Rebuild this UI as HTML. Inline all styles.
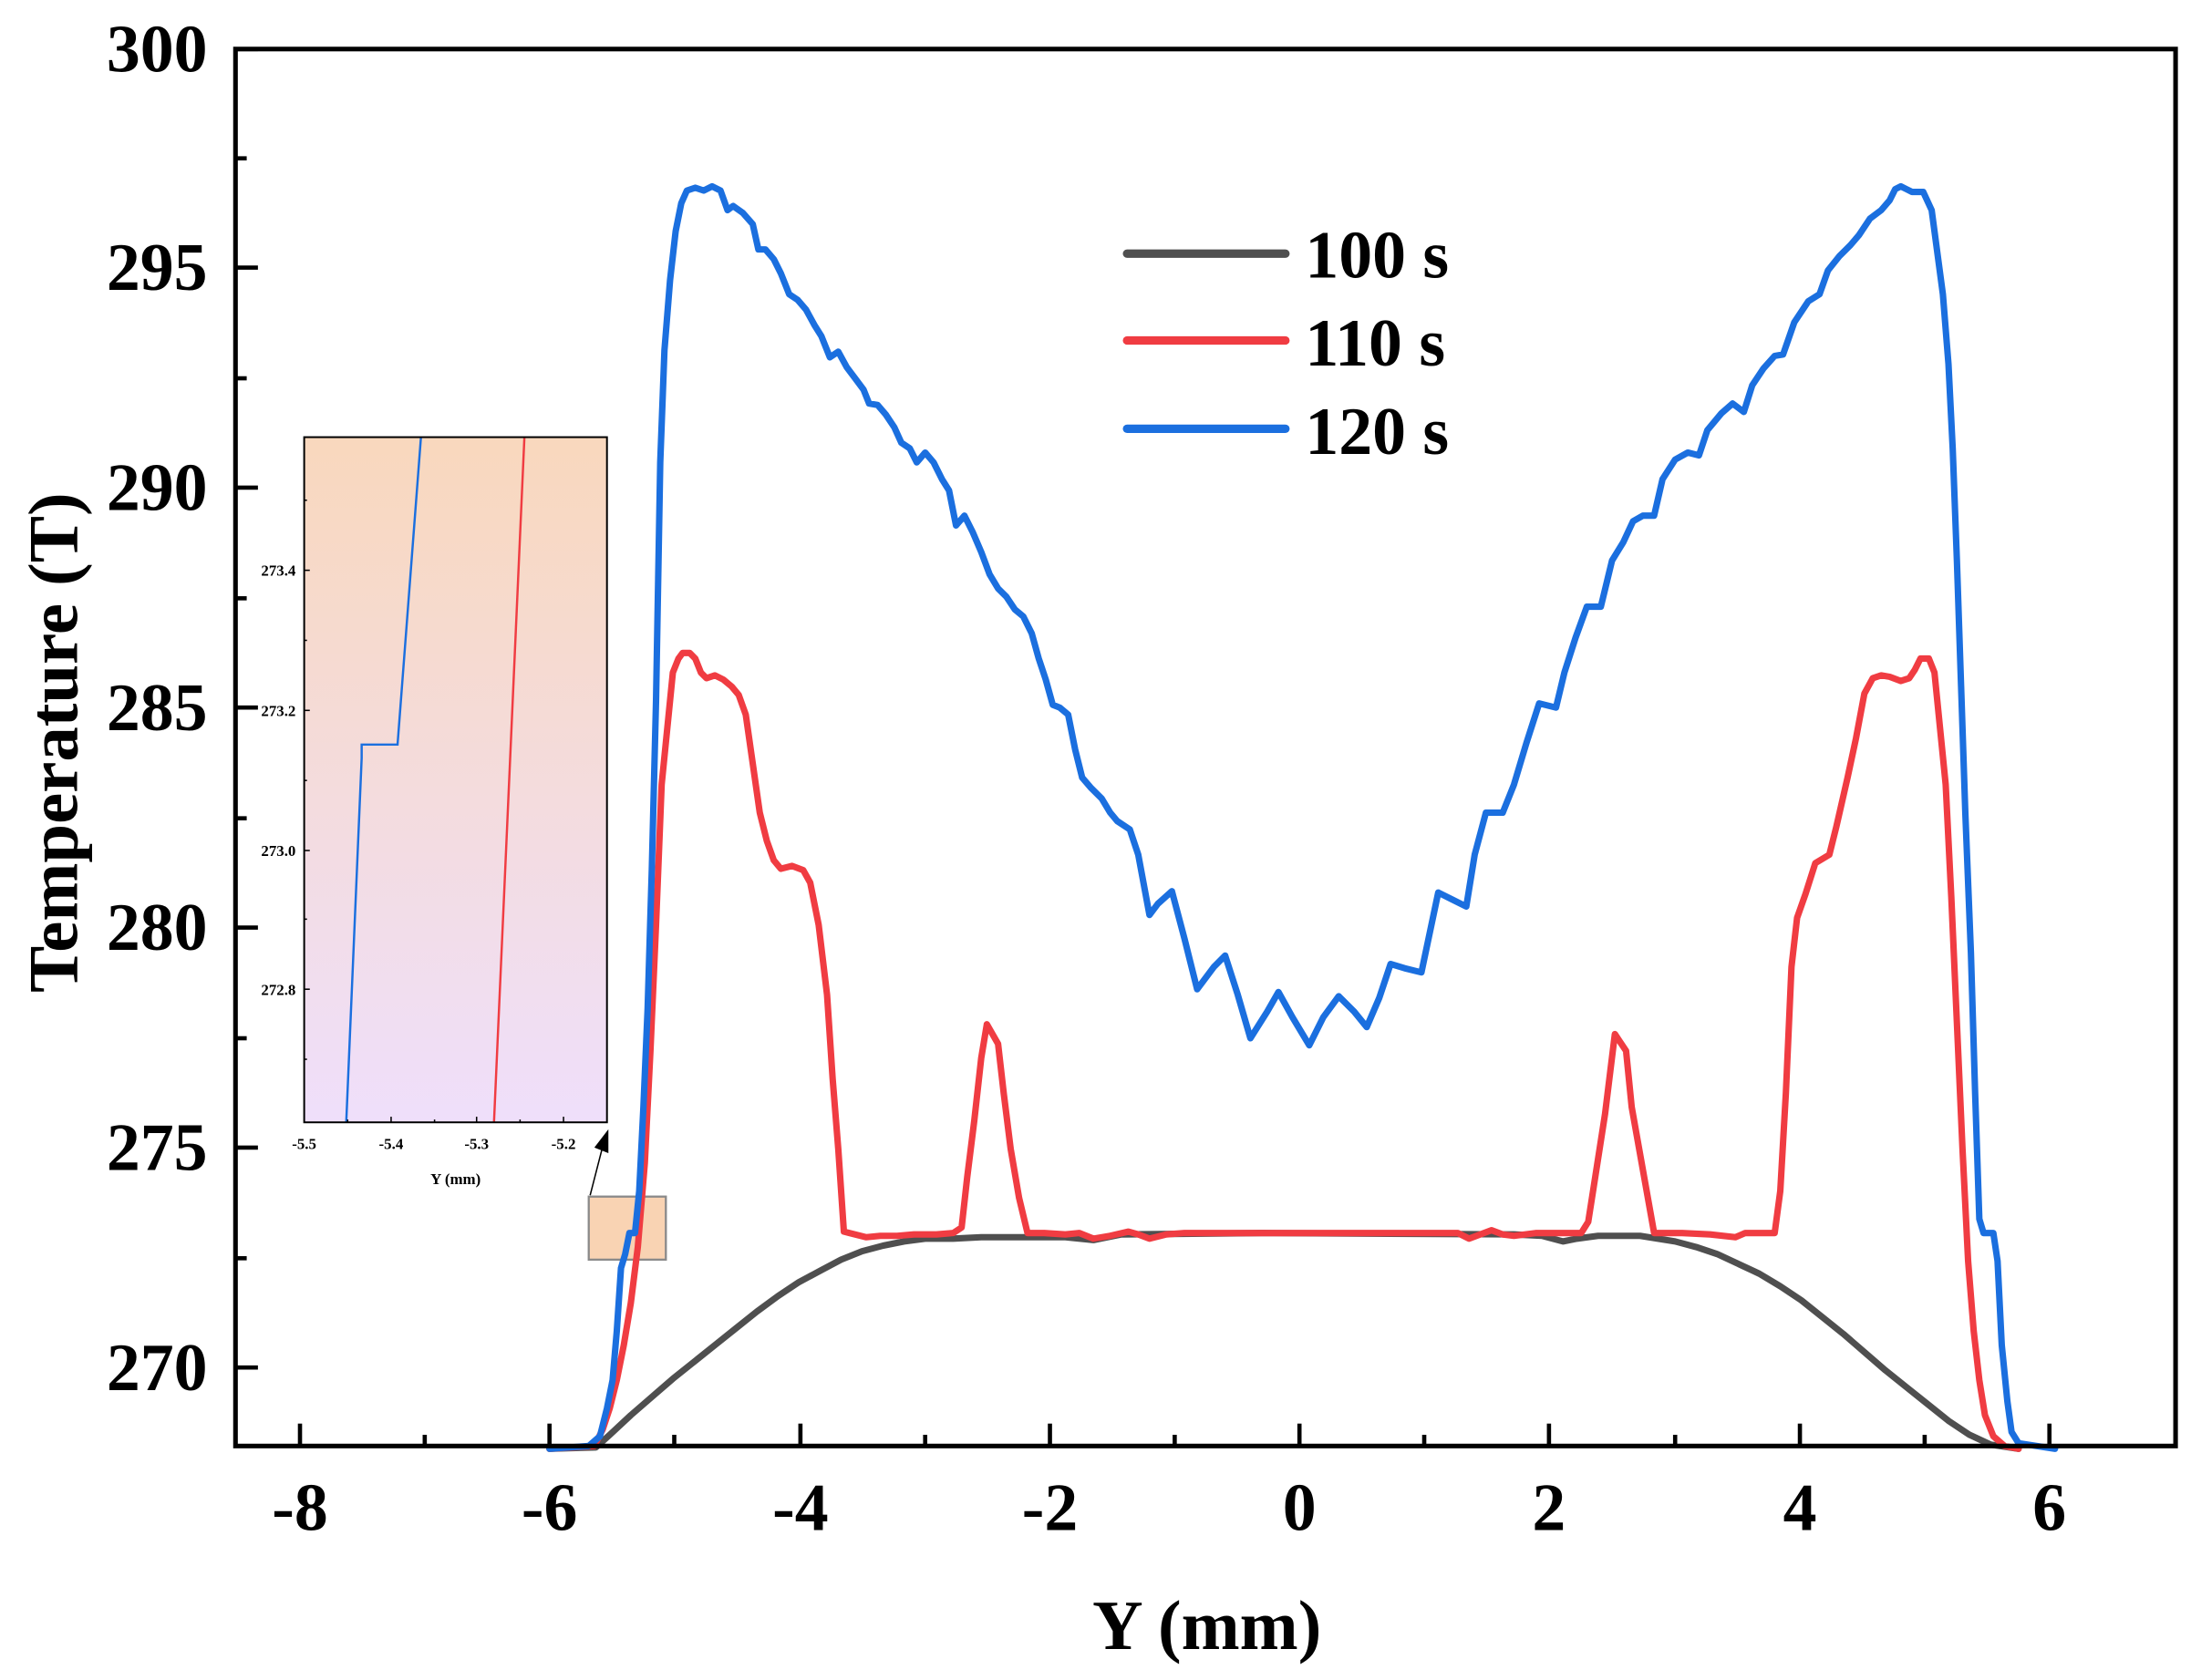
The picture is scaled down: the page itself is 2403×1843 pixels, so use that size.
<!DOCTYPE html>
<html><head><meta charset="utf-8"><style>
html,body{margin:0;padding:0;background:#fff;}
svg{display:block;}
text{font-family:"Liberation Serif",serif;font-weight:bold;fill:#000;}
</style></head><body>
<svg width="2403" height="1843" viewBox="0 0 1563 1199" preserveAspectRatio="none" xmlns="http://www.w3.org/2000/svg">
<defs>
<linearGradient id="g" x1="0" y1="0" x2="0" y2="1">
<stop offset="0" stop-color="#f9d8bd"/><stop offset="1" stop-color="#efdffb"/>
</linearGradient>
</defs>
<rect width="1563" height="1199" fill="#fff"/>

<!-- small highlight box -->
<rect x="420" y="854" width="55" height="45" fill="#f9d3b3" stroke="#8a8a8a" stroke-width="1.5"/>

<!-- series -->
<g fill="none" stroke-width="4.6" stroke-linejoin="round" stroke-linecap="round">
<polyline stroke="#4f4f4f" points="392,1034 425,1033 435,1024 450,1010 465,997 480,984 495,972 510,960 525,948 540,936 555,925 570,915 585,907 600,899 615,893 630,889 645,886 660,884 680,884 700,883 760,883 780,885 800,881 900,880 1080,881 1100,882 1115,886 1125,884 1140,882 1170,882 1195,886 1210,890 1225,895 1240,902 1255,909 1270,918 1285,928 1300,940 1315,952 1330,965 1345,978 1360,990 1375,1002 1390,1014 1405,1024 1420,1031 1440,1034"/>
<polyline stroke="#f03c42" points="392,1034 424,1032 430,1020 435,1005 440,985 445,960 450,930 455,890 460,830 464,750 468,660 472,560 476,520 480,480 484,470 487,466 492,466 496,470 500,480 504,484 510,482 516,485 522,490 527,496 532,510 537,545 542,580 547,600 552,614 557,620 565,618 573,621 578,630 584,660 590,710 594,770 598,820 602,879 606,880 618,883 628,882 640,882 652,881 668,881 680,880 686,876 690,840 695,800 700,755 704,731 712,745 716,780 721,820 727,855 733,880 745,880 760,881 770,880 780,884 792,882 805,879 812,881 820,884 832,881 845,880 860,880 880,880 1040,880 1048,884 1056,881 1064,878 1072,881 1080,882 1096,880 1128,880 1133,872 1138,840 1145,795 1152,738 1160,750 1164,790 1172,835 1180,880 1200,880 1220,881 1238,883 1245,880 1266,880 1270,850 1274,780 1278,690 1282,655 1288,638 1295,616 1305,610 1310,590 1318,555 1324,527 1330,495 1336,484 1342,482 1348,483 1356,486 1362,484 1366,478 1370,470 1376,470 1380,480 1384,520 1388,560 1392,640 1396,730 1400,820 1404,900 1408,950 1412,985 1416,1010 1422,1025 1430,1032 1440,1034"/>
<polyline stroke="#1b6fdf" points="392,1034 420,1032 428,1025 433,1005 437,985 440,950 443,905 446,895 449,880 453,880 456,850 459,790 462,720 465,620 468,500 471,330 474,250 478,200 482,165 486,145 490,136 496,134 502,136 508,133 514,136 519,150 523,147 530,152 537,160 541,178 546,178 552,185 557,195 563,210 569,214 575,221 581,232 586,240 592,255 598,251 604,262 610,270 616,278 620,288 626,289 632,296 638,305 643,316 649,320 654,330 660,323 666,330 672,342 677,350 682,375 688,368 694,380 700,394 706,410 712,420 718,426 724,435 730,440 736,452 741,470 746,485 751,503 756,505 762,510 767,535 772,555 778,562 786,570 792,580 797,586 806,592 812,610 820,653 826,645 836,636 845,670 854,706 866,690 874,682 883,710 892,741 904,722 912,708 922,726 934,746 944,726 955,711 966,722 975,733 984,712 992,688 1002,691 1014,694 1026,637 1036,642 1046,647 1052,610 1060,580 1072,580 1080,560 1089,530 1098,502 1110,505 1116,480 1124,455 1132,433 1142,433 1150,400 1158,387 1165,372 1172,368 1180,368 1186,342 1195,328 1204,323 1212,325 1218,307 1228,295 1236,288 1244,294 1250,275 1258,263 1266,254 1272,253 1280,230 1290,215 1298,210 1304,193 1312,183 1320,175 1326,168 1334,156 1342,150 1348,143 1352,135 1356,133 1360,135 1364,137 1372,137 1378,150 1382,180 1386,210 1390,260 1393,320 1396,400 1399,490 1402,580 1406,680 1409,780 1412,870 1415,880 1422,880 1425,900 1428,960 1432,1000 1435,1022 1440,1030 1466,1034"/>
</g>

<!-- axes frame -->
<rect x="168" y="35" width="1384" height="997" fill="none" stroke="#000" stroke-width="3.3"/>

<!-- x ticks -->
<g stroke="#000" stroke-width="3">
<line x1="214" y1="1032" x2="214" y2="1016"/><line x1="303" y1="1032" x2="303" y2="1024"/>
<line x1="392" y1="1032" x2="392" y2="1016"/><line x1="481" y1="1032" x2="481" y2="1024"/>
<line x1="571" y1="1032" x2="571" y2="1016"/><line x1="660" y1="1032" x2="660" y2="1024"/>
<line x1="749" y1="1032" x2="749" y2="1016"/><line x1="838" y1="1032" x2="838" y2="1024"/>
<line x1="927" y1="1032" x2="927" y2="1016"/><line x1="1016" y1="1032" x2="1016" y2="1024"/>
<line x1="1105" y1="1032" x2="1105" y2="1016"/><line x1="1195" y1="1032" x2="1195" y2="1024"/>
<line x1="1284" y1="1032" x2="1284" y2="1016"/><line x1="1373" y1="1032" x2="1373" y2="1024"/>
<line x1="1462" y1="1032" x2="1462" y2="1016"/>
<!-- y ticks -->
<line x1="168" y1="35" x2="184" y2="35"/><line x1="168" y1="113" x2="176" y2="113"/>
<line x1="168" y1="191" x2="184" y2="191"/><line x1="168" y1="270" x2="176" y2="270"/>
<line x1="168" y1="348" x2="184" y2="348"/><line x1="168" y1="427" x2="176" y2="427"/>
<line x1="168" y1="505" x2="184" y2="505"/><line x1="168" y1="584" x2="176" y2="584"/>
<line x1="168" y1="662" x2="184" y2="662"/><line x1="168" y1="741" x2="176" y2="741"/>
<line x1="168" y1="819" x2="184" y2="819"/><line x1="168" y1="898" x2="176" y2="898"/>
<line x1="168" y1="976" x2="184" y2="976"/>
</g>

<!-- y labels -->
<g font-size="48" text-anchor="end">
<text x="148" y="51">300</text>
<text x="148" y="207">295</text>
<text x="148" y="364">290</text>
<text x="148" y="521">285</text>
<text x="148" y="678">280</text>
<text x="148" y="835">275</text>
<text x="148" y="992">270</text>
</g>
<!-- x labels -->
<g font-size="48" text-anchor="middle">
<text x="214" y="1092">-8</text>
<text x="392" y="1092">-6</text>
<text x="571" y="1092">-4</text>
<text x="749" y="1092">-2</text>
<text x="927" y="1092">0</text>
<text x="1105" y="1092">2</text>
<text x="1284" y="1092">4</text>
<text x="1462" y="1092">6</text>
</g>
<text x="861" y="1177" font-size="50" text-anchor="middle">Y (mm)</text>
<text transform="translate(55,530) rotate(-90)" font-size="50" text-anchor="middle">Temperature (T)</text>

<!-- legend -->
<g stroke-width="6" stroke-linecap="round">
<line x1="804" y1="181" x2="917" y2="181" stroke="#4f4f4f"/>
<line x1="804" y1="243" x2="917" y2="243" stroke="#f03c42"/>
<line x1="804" y1="306" x2="917" y2="306" stroke="#1b6fdf"/>
</g>
<g font-size="48">
<text x="931" y="198">100 s</text>
<text x="931" y="261">110 s</text>
<text x="931" y="324">120 s</text>
</g>

<!-- inset -->
<rect x="217" y="312" width="216" height="489" fill="url(#g)"/>
<g fill="none" stroke-width="1.6">
<polyline stroke="#1b6fdf" points="247,801 258,541 258,531.4 283.6,531.4 300.3,312"/>
<polyline stroke="#f03c42" points="352.4,801 374.1,312"/>
</g>
<rect x="217" y="312" width="216" height="489" fill="none" stroke="#000" stroke-width="1.3"/>
<g stroke="#000" stroke-width="1">
<line x1="217" y1="407" x2="221" y2="407"/><line x1="217" y1="507" x2="221" y2="507"/>
<line x1="217" y1="607" x2="221" y2="607"/><line x1="217" y1="706" x2="221" y2="706"/>
<line x1="217" y1="357" x2="219" y2="357"/><line x1="217" y1="457" x2="219" y2="457"/>
<line x1="217" y1="557" x2="219" y2="557"/><line x1="217" y1="656" x2="219" y2="656"/>
<line x1="217" y1="756" x2="219" y2="756"/>
<line x1="279" y1="801" x2="279" y2="797"/><line x1="340" y1="801" x2="340" y2="797"/>
<line x1="402" y1="801" x2="402" y2="797"/>
<line x1="248" y1="801" x2="248" y2="799"/><line x1="310" y1="801" x2="310" y2="799"/>
<line x1="371" y1="801" x2="371" y2="799"/>
</g>
<g font-size="11" text-anchor="end">
<text x="211" y="411">273.4</text>
<text x="211" y="511">273.2</text>
<text x="211" y="611">273.0</text>
<text x="211" y="710">272.8</text>
</g>
<g font-size="11" text-anchor="middle">
<text x="217" y="820">-5.5</text>
<text x="279" y="820">-5.4</text>
<text x="340" y="820">-5.3</text>
<text x="402" y="820">-5.2</text>
</g>
<text x="325" y="845" font-size="11" text-anchor="middle">Y (mm)</text>
<!-- arrow -->
<line x1="421" y1="853" x2="430" y2="818" stroke="#000" stroke-width="1"/>
<polygon points="434,806 434,823 424,819" fill="#000"/>
</svg>
</body></html>
